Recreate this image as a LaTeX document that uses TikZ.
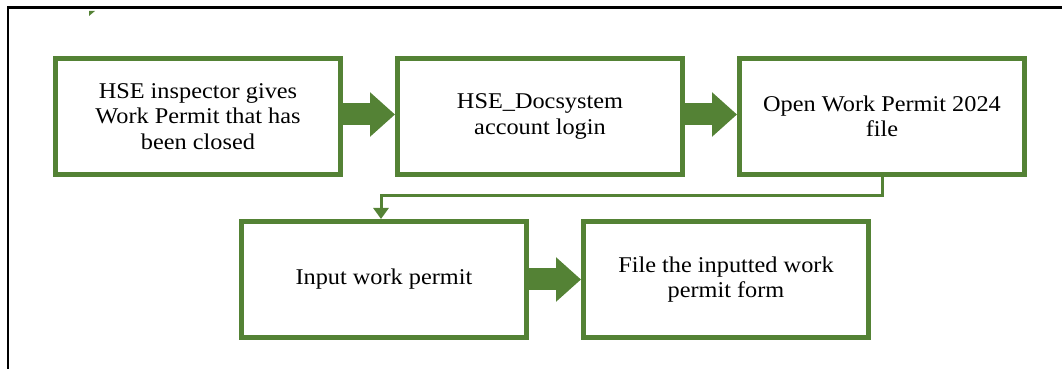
\documentclass[tikz,border=0pt]{standalone}
\usepackage{fontspec}
\setmainfont[FakeStretch=1.08]{Liberation Serif}
\usepackage{tikz}
\usetikzlibrary{positioning,arrows.meta}
\definecolor{permitgreen}{RGB}{84,130,53}
\tikzset{x=1pt, y=1pt, node distance=52pt,
  stepbox/.style={draw=permitgreen, line width=5pt, minimum width=285pt,
    minimum height=116pt, align=center, font=\fontsize{22.5}{25.5}\selectfont},
  bigarrow/.style={permitgreen, line width=22pt, -{Triangle[width=43pt,length=25pt]}},
  flowline/.style={permitgreen, line width=3pt, -{Triangle[width=15pt,length=11pt]}}}

\begin{document}
\begin{tikzpicture}
   \useasboundingbox (0,0) rectangle (1062,369);
   \clip (0,0) rectangle (1062,369);
   % outer frame (cut off at right and bottom)
   \draw[line width=2.5pt] (8,-20) -- (8,361.6) -- (1090,361.6);
   \fill[permitgreen] (89,358) -- (95,358) -- (89,353) -- cycle;
   % top row
   \node(1) [stepbox] at (198,252.5) {HSE inspector gives\\Work Permit that has\\been closed};
   \node(2) [stepbox, right=of 1] {HSE\_Docsystem\\account login};
   \node(3) [stepbox, right=of 2] {Open Work Permit 2024\\file};
   % bottom row
   \node(4) [stepbox] at (384,89.5) {Input work permit};
   \node(5) [stepbox, right=of 4] {File the inputted work\\permit form};
   \draw[bigarrow] ([yshift=2pt]1.east) to ([yshift=2pt]2.west);
   \draw[bigarrow] ([yshift=2pt]2.east) to ([yshift=2pt]3.west);
   \draw[flowline] (3.south) -- ++(0,-19) -| ([xshift=-3pt]4.north);
   \draw[bigarrow] (4.east) to (5.west);
\end{tikzpicture}
\end{document}
